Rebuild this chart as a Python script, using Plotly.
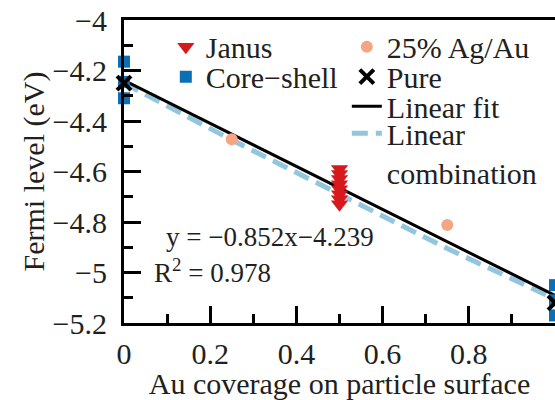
import plotly.graph_objects as go

# ---- data -------------------------------------------------------------
janus_x = [0.5, 0.5, 0.5, 0.5, 0.5, 0.5, 0.5, 0.5]
janus_y = [-4.59, -4.61, -4.63, -4.65, -4.67, -4.69, -4.71, -4.73]

core_x = [0, 0, 0, 1, 1, 1]
core_y = [-4.165, -4.245, -4.31, -5.05, -5.11, -5.17]

alloy_x = [0.25, 0.75]
alloy_y = [-4.472, -4.812]

pure_x = [0, 1]
pure_y = [-4.25, -5.12]

fit_slope = -0.852
fit_intercept = -4.239
fit_r2 = 0.978
fit_x = [0, 1]

combo_x = [0, 0.25, 0.5, 0.75, 1]
combo_y = [-4.25, -4.475, -4.69, -4.905, -5.105]

x_ticks = [0, 0.2, 0.4, 0.6, 0.8, 1]
x_ticktext = ["0", "0.2", "0.4", "0.6", "0.8", "1"]
x_minor = [0.1, 0.3, 0.5, 0.7, 0.9]
y_ticks = [-5.2, -5.0, -4.8, -4.6, -4.4, -4.2, -4.0]
y_ticktext = ["\u22125.2", "\u22125", "\u22124.8", "\u22124.6", "\u22124.4", "\u22124.2", "\u22124"]
y_minor = [-5.1, -4.9, -4.7, -4.5, -4.3, -4.1]
top_ticks = [0.1, 0.2, 0.3, 0.4, 0.5, 0.6, 0.7, 0.8, 0.9]

# ---- style ------------------------------------------------------------
FONT = "Liberation Serif, Times New Roman, Times, serif"
INK = "#231f20"
FS = 30
FS_NOTE = 27
RED = "#d7191c"
BLUE = "#0a6fb5"
SALMON = "#f4a582"
LIGHTBLUE = "#92c5de"

fit_y = [fit_slope * x + fit_intercept for x in fit_x]

fig = go.Figure()

fig.add_trace(go.Scatter(
    x=combo_x, y=combo_y, mode="lines", name="Linear<br>combination",
    line=dict(color=LIGHTBLUE, width=5, dash="16px,8px"),
    legend="legend6"))
fig.add_trace(go.Scatter(
    x=fit_x, y=fit_y, mode="lines", name="Linear fit",
    line=dict(color="black", width=3), legend="legend5"))
fig.add_trace(go.Scatter(
    x=core_x, y=core_y, mode="markers", name="Core\u2212shell",
    marker=dict(symbol="square", size=12, color=BLUE),
    cliponaxis=False, legend="legend2"))
fig.add_trace(go.Scatter(
    x=janus_x, y=janus_y, mode="markers", name="Janus",
    marker=dict(symbol="triangle-down", size=15, color=RED),
    showlegend=True, legend="legend"))
fig.add_trace(go.Scatter(
    x=alloy_x, y=alloy_y, mode="markers", name="25% Ag/Au",
    marker=dict(symbol="circle", size=12, color=SALMON),
    legend="legend3"))
fig.add_trace(go.Scatter(
    x=pure_x, y=pure_y, mode="markers", name="Pure",
    marker=dict(symbol="x-thin", size=14, color="black",
                line=dict(width=4, color="black")),
    cliponaxis=False, legend="legend4"))

# equation of the fit line
fig.add_annotation(
    x=0.092, y=-4.858, xref="x", yref="y", xanchor="left", yanchor="middle",
    text=f"y = \u2212{abs(fit_slope):.3f}x\u2212{abs(fit_intercept):.3f}",
    showarrow=False, font=dict(family=FONT, size=FS_NOTE, color=INK))
fig.add_annotation(
    x=0.066, y=-4.995, xref="x", yref="y", xanchor="left", yanchor="middle",
    text=f"R<sup>2</sup> = {fit_r2:.3f}",
    showarrow=False, font=dict(family=FONT, size=FS_NOTE, color=INK))

legend_font = dict(family=FONT, size=FS, color=INK)


def legend_box(x, y, valign="middle"):
    return dict(x=x, y=y, xanchor="left", yanchor="middle",
                bgcolor="rgba(0,0,0,0)", borderwidth=0, font=legend_font,
                itemsizing="trace", valign=valign)


fig.update_layout(
    width=555, height=400,
    margin=dict(l=124, r=0, t=20, b=75),
    paper_bgcolor="white", plot_bgcolor="white",
    font=dict(family=FONT, size=FS, color=INK),
    showlegend=True,
    legend=legend_box(0.097, 0.912),
    legend2=legend_box(0.097, 0.813),
    legend3=legend_box(0.517, 0.912),
    legend4=legend_box(0.517, 0.813),
    legend5=legend_box(0.517, 0.715),
    legend6=legend_box(0.517, 0.562, valign="top"),
    xaxis=dict(
        range=[0, 1], tickvals=x_ticks, ticktext=x_ticktext,
        ticks="inside", ticklen=17, tickwidth=3, tickcolor="black",
        minor=dict(tickvals=x_minor, ticks="inside", ticklen=9,
                   tickwidth=3, tickcolor="black"),
        showline=True, linewidth=3, linecolor="black", mirror=True,
        showgrid=False, zeroline=False, ticklabelstandoff=2,
        tickfont=dict(family=FONT, size=FS, color=INK),
        title=dict(text="Au coverage on particle surface",
                   font=dict(family=FONT, size=FS, color=INK), standoff=9),
    ),
    yaxis=dict(
        range=[-5.2, -4.0], tickvals=y_ticks, ticktext=y_ticktext,
        ticks="inside", ticklen=17, tickwidth=3, tickcolor="black",
        minor=dict(tickvals=y_minor, ticks="inside", ticklen=9,
                   tickwidth=3, tickcolor="black"),
        showline=True, linewidth=3, linecolor="black", mirror=False,
        showgrid=False, zeroline=False, ticklabelstandoff=8,
        tickfont=dict(family=FONT, size=FS, color=INK),
        title=dict(text="Fermi level (eV)",
                   font=dict(family=FONT, size=FS, color=INK), standoff=0),
    ),
    # tick marks along the top edge
    xaxis2=dict(
        overlaying="x", side="top", anchor="y", range=[0, 1],
        tickvals=top_ticks, ticks="inside", ticklen=9, tickwidth=3,
        tickcolor="black", showticklabels=False, showline=False,
        showgrid=False, zeroline=False),
    # tick marks along the right edge
    yaxis2=dict(
        overlaying="y", side="right", anchor="x", range=[-5.2, -4.0],
        tickvals=y_ticks, ticks="inside", ticklen=15, tickwidth=3,
        tickcolor="black",
        minor=dict(tickvals=y_minor, ticks="inside", ticklen=9,
                   tickwidth=3, tickcolor="black"),
        showticklabels=False, showline=False,
        showgrid=False, zeroline=False),
)

fig.write_html("out.html")
